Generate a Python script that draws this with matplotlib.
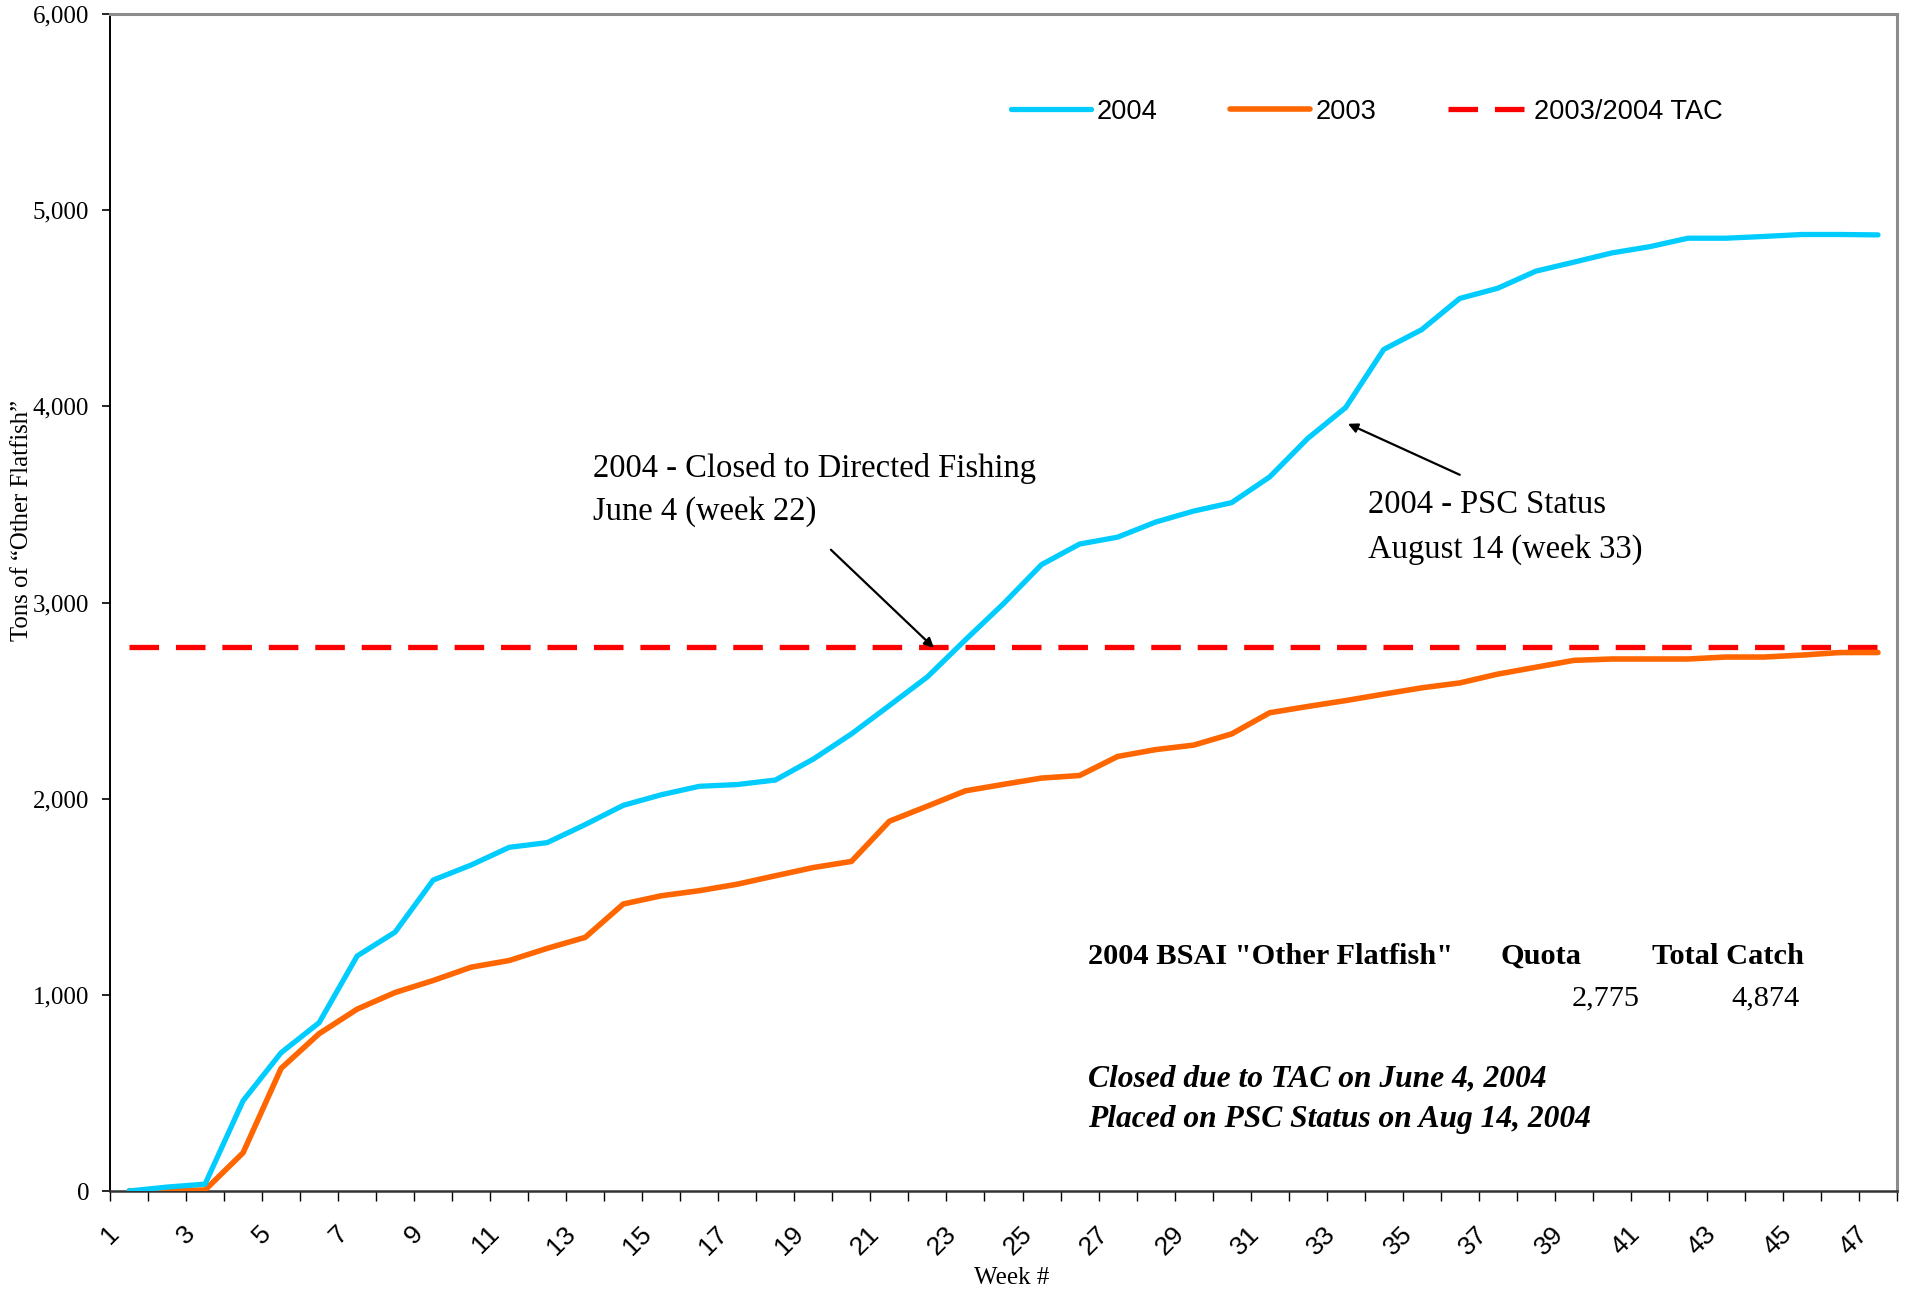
import matplotlib
matplotlib.use("Agg")
import matplotlib.pyplot as plt
from matplotlib.ticker import FixedLocator, FuncFormatter
from matplotlib.transforms import ScaledTranslation

# ── data (tons of "Other Flatfish", cumulative by week) ──────────────────────
weeks = list(range(1, 48))

catch_2004 = [0, 20, 35, 460, 705, 858, 1198, 1320, 1585, 1662,
              1752, 1776, 1868, 1966, 2020, 2063, 2072, 2095, 2202, 2330,
              2475, 2621, 2810, 2994, 3193, 3298, 3333, 3410, 3466, 3509,
              3640, 3836, 3994, 4290, 4391, 4550, 4602, 4689, 4735, 4782,
              4814, 4857, 4857, 4866, 4876, 4876, 4874]

catch_2003 = [0, 2, 5, 195, 625, 802, 927, 1012, 1073, 1141,
              1175, 1237, 1293, 1463, 1505, 1531, 1564, 1607, 1649, 1680,
              1885, 1962, 2040, 2073, 2105, 2118, 2215, 2250, 2273, 2330,
              2438, 2470, 2500, 2533, 2565, 2590, 2635, 2670, 2705, 2712,
              2712, 2712, 2722, 2722, 2732, 2745, 2745]

TAC = 2775
tac_line = [TAC] * len(weeks)

quota_2004 = 2775
total_catch_2004 = 4874

SERIF = ["Liberation Serif", "DejaVu Serif"]
SANS = ["Liberation Sans", "DejaVu Sans"]

# ── figure ───────────────────────────────────────────────────────────────────
fig = plt.figure(figsize=(19.07, 12.90), dpi=100)
ax = fig.add_axes([110 / 1907, 1 - 1191 / 1290, (1897 - 110) / 1907, (1191 - 14) / 1290])

ax.plot(weeks, catch_2004, color="#00CCFF", lw=3.8, label="2004",
        solid_capstyle="round", solid_joinstyle="round", zorder=4)
ax.plot(weeks, catch_2003, color="#FF6600", lw=4.0, label="2003",
        solid_capstyle="round", solid_joinstyle="round", zorder=3)
ax.plot(weeks, tac_line, color="#FF0000", lw=3.8, dashes=(5.6, 3.2),
        label="2003/2004 TAC", zorder=2)

ax.set_xlim(0.5, 47.5)
ax.set_ylim(0, 6000)

# y axis
ax.set_yticks(range(0, 6001, 1000))
ax.yaxis.set_major_formatter(FuncFormatter(lambda v, p: f"{int(v):,}"))
ax.tick_params(axis="y", direction="out", length=6, width=1.2, pad=9,
               labelsize=18)
for lab in ax.get_yticklabels():
    lab.set_fontfamily(SERIF)

# x axis: ticks on category boundaries, labels on odd weeks
ax.xaxis.set_major_locator(FixedLocator(weeks[::2]))
ax.xaxis.set_minor_locator(FixedLocator([w - 0.5 for w in weeks] + [weeks[-1] + 0.5]))
ax.tick_params(axis="x", which="major", length=0, pad=22)
ax.tick_params(axis="x", which="minor", direction="out", length=7, width=1.0)
ax.set_xticklabels([str(w) for w in weeks[::2]], rotation=45, ha="right",
                   va="top", rotation_mode="anchor", fontsize=19,
                   fontfamily=SANS)
shift = ScaledTranslation(-22 / 100, 0, fig.dpi_scale_trans)
for lab in ax.get_xticklabels():
    lab.set_transform(lab.get_transform() + shift)

# plot-area frame
ax.spines["left"].set_color("black")
ax.spines["left"].set_linewidth(1.4)
ax.spines["bottom"].set_color("#333333")
ax.spines["bottom"].set_linewidth(1.8)
for s in ("top", "right"):
    ax.spines[s].set_color("#8c8c8c")
    ax.spines[s].set_linewidth(2.2)

# axis titles
fig.text(22 / 1907, 1 - 520 / 1290, "Tons of \u201cOther Flatfish\u201d",
         rotation=90, ha="center", va="center", fontsize=17.8, fontfamily=SERIF)
fig.text(1012 / 1907, 6 / 1290, "Week #", ha="center", va="baseline",
         fontsize=18, fontfamily=SERIF)

# legend
ax.legend(loc="center left", bbox_to_anchor=(1011 / 1907, 1 - 112 / 1290),
          bbox_transform=fig.transFigure, ncol=3, frameon=False,
          prop={"family": SANS, "size": 19.6}, handlelength=2.95,
          handletextpad=0.2, columnspacing=2.65, borderpad=0,
          borderaxespad=0)

# annotations
ax.text(13.2, 3641, "2004 - Closed to Directed Fishing", fontsize=23.5,
        fontfamily=SERIF, va="baseline")
ax.text(13.2, 3422, "June 4 (week 22)", fontsize=23.5, fontfamily=SERIF,
        va="baseline")
ax.annotate("", xy=(22.17, 2769), xytext=(19.46, 3269),
            arrowprops=dict(arrowstyle="-|>", color="black", lw=1.6,
                            mutation_scale=14, shrinkA=0, shrinkB=0))

ax.text(33.59, 3457, "2004 - PSC Status", fontsize=23.5, fontfamily=SERIF,
        va="baseline")
ax.text(33.59, 3228, "August 14 (week 33)", fontsize=23.5, fontfamily=SERIF,
        va="baseline")
ax.annotate("", xy=(33.06, 3911), xytext=(36.0, 3651),
            arrowprops=dict(arrowstyle="-|>", color="black", lw=1.6,
                            mutation_scale=14, shrinkA=0, shrinkB=0))

# summary box text
ax.text(26.22, 1158, "2004 BSAI \"Other Flatfish\"", fontsize=21.9,
        fontweight="bold", fontfamily=SERIF, va="baseline")
ax.text(37.06, 1158, "Quota", fontsize=21.9, fontweight="bold",
        fontfamily=SERIF, va="baseline")
ax.text(41.06, 1158, "Total Catch", fontsize=21.9, fontweight="bold",
        fontfamily=SERIF, va="baseline")
ax.text(40.72, 948, f"{quota_2004:,}", fontsize=21.9, fontfamily=SERIF,
        ha="right", va="baseline")
ax.text(44.95, 948, f"{total_catch_2004:,}", fontsize=21.9, fontfamily=SERIF,
        ha="right", va="baseline")
ax.text(26.22, 535, "Closed due to TAC on June 4, 2004", fontsize=22.7,
        fontweight="bold", fontstyle="italic", fontfamily=SERIF,
        va="baseline")
ax.text(26.22, 326, "Placed on PSC Status on Aug 14, 2004", fontsize=22.7,
        fontweight="bold", fontstyle="italic", fontfamily=SERIF,
        va="baseline")

fig.savefig("out.png", dpi=100)
